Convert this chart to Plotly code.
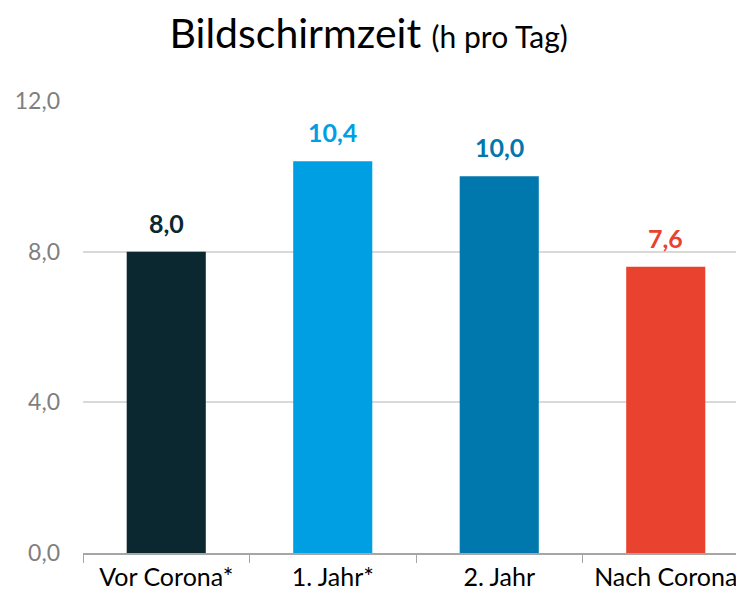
import plotly.graph_objects as go

categories = ["Vor Corona*", "1. Jahr*", "2. Jahr", "Nach Corona"]
values = [8.0, 10.4, 10.0, 7.6]
colors = ["#0b2730", "#009fe3", "#0077ad", "#e94330"]
y_ticks = [0, 4, 8, 12]
y_ticklabels = ["0,0", "4,0", "8,0", "12,0"]

FONT = "Lato"

fig = go.Figure()
fig.add_trace(go.Bar(
    x=categories, y=values, marker=dict(color=colors, line=dict(width=0)),
    width=0.475, hoverinfo="skip",
))

for c, v, col in zip(categories, values, colors):
    fig.add_annotation(
        x=c, y=v, text="<b>" + f"{v:.1f}".replace(".", ",") + "</b>",
        showarrow=False, yanchor="bottom", yshift=12,
        font=dict(family=FONT, size=25, color=col),
    )

# page body has an 8px default margin, so the figure is sized to fit the window
fig.update_layout(
    width=736, height=587,
    margin=dict(l=75, r=0, t=93, b=42),
    paper_bgcolor="white", plot_bgcolor="white",
    showlegend=False,
    separators=",.",
    title=dict(
        text="Bildschirmzeit <span style='font-size:30px'>(h pro Tag)</span>",
        x=0.49, xanchor="center", y=0.956, yanchor="middle",
        font=dict(family=FONT, size=41, color="black"),
    ),
    xaxis=dict(
        range=[-0.5, 3.47], showgrid=False,
        showline=True, linecolor="#a6a6a6", linewidth=1.5,
        ticks="outside", tickson="boundaries", ticklen=8, tickcolor="#a6a6a6",
        tickfont=dict(family=FONT, size=25, color="black"),
        ticklabelstandoff=1,
    ),
    yaxis=dict(
        range=[0, 12], tickvals=y_ticks, ticktext=y_ticklabels,
        showgrid=True, gridcolor="#d9d9d9", gridwidth=1.5,
        zeroline=False, showline=False, ticks="",
        ticklabelstandoff=22,
        tickfont=dict(family=FONT, size=23, color="#7f7f7f"),
    ),
)

fig.write_html("out.html")
